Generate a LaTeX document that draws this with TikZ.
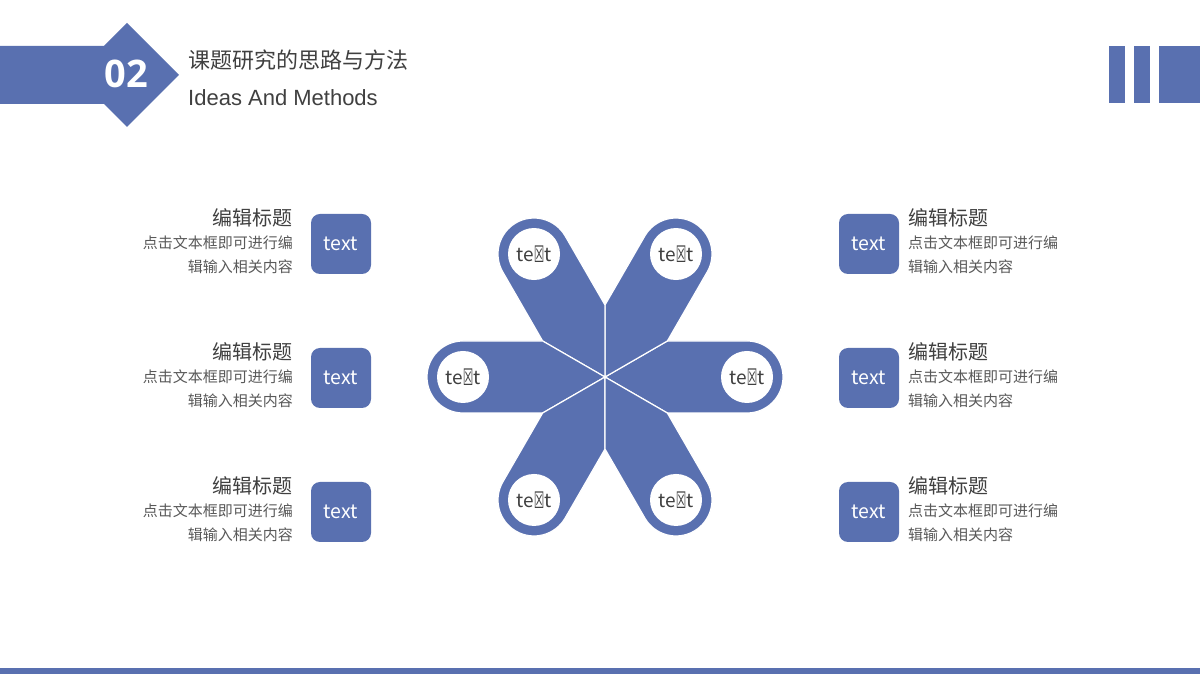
\documentclass[tikz,border=0pt]{standalone}
\usepackage{fontspec}
\setmainfont{Noto Sans CJK SC}
\newfontfamily\opensans{Open Sans}
\newfontfamily\libsans{Liberation Sans}
\newfontfamily\dejavu{DejaVu Sans}
\usetikzlibrary{calc}
\definecolor{mainblue}{RGB}{89,112,176}
\definecolor{titlegray}{RGB}{64,64,64}
\definecolor{bodygray}{RGB}{89,89,89}
\newcommand{\boxedx}{\raisebox{-0.04em}{\scalebox{0.62}[1.2]{\dejavu ☒}}}
\tikzset{
  petal/.style={fill=mainblue, draw=white, line width=1.2pt, line join=miter},
  petalcircle/.style={circle, fill=white, minimum size=52pt, inner sep=0pt,
    text=titlegray, font=\fontsize{19}{22}\selectfont},
  tbox/.style={fill=mainblue, rounded corners=9pt, minimum width=60pt, minimum height=60pt,
    inner sep=0pt, text=white, font=\fontsize{19.5}{22}\selectfont},
  ttl/.style={inner sep=0pt, text=titlegray, font=\fontsize{20}{24}\selectfont},
  bdy/.style={inner sep=0pt, text=bodygray, font=\fontsize{15}{18}\selectfont},
  bar/.style={fill=mainblue, draw=none},
}
\begin{document}
\begin{tikzpicture}[x=1pt,y=1pt]
\useasboundingbox (0,0) rectangle (1200,680);
\fill[white] (0,0) rectangle (1200,680);
% header
\fill[mainblue] (0,634) -- (104,634) -- (127,657) -- (179,605) -- (127,553) -- (104,576) -- (0,576) -- cycle;
\node[inner sep=0pt, text=white, font=\opensans\bfseries\fontsize{38}{40}\selectfont] (num) at (126.5,606) {02};
\node[inner sep=0pt, anchor=west, text=titlegray, font=\fontsize{22}{26}\selectfont] (title) at (188,620) {课题研究的思路与方法};
\node[inner sep=0pt, anchor=west, text=titlegray, font=\libsans\fontsize{22}{26}\selectfont] (subtitle) at (188,582) {Ideas And Methods};
% right bars
\fill[bar] (1109,577) rectangle (1125,634);
\fill[bar] (1134,577) rectangle (1150,634);
\fill[bar] (1159,577) rectangle (1200,634);
% bottom line
\fill[bar] (0,6) rectangle (1200,12);
% flower
\coordinate (O) at (605,303);
\foreach \a [count=\i] in {0,60,120,180,240,300} {
  \filldraw[petal] (O) -- ($(O)+(\a+30:72)$) -- ($(O)+(\a:142)+(\a+90:36)$)
    arc[start angle=\a+90, end angle=\a-90, radius=36] -- ($(O)+(\a-30:72)$) -- cycle;
  \node[petalcircle] (c\i) at ($(O)+(\a:142)$) {te\boxedx t};
}
% side items
\foreach \y [count=\i] in {436,302,168} {
  \node[tbox] (L\i) at (341,\y) {text};
  \node[tbox] (R\i) at (869,\y) {text};
  \node[ttl, anchor=east] (LT\i) at (293,\y+26) {编辑标题};
  \node[bdy, anchor=east] (LA\i) at (293,\y+1) {点击文本框即可进行编};
  \node[bdy, anchor=east] (LB\i) at (293,\y-23) {辑输入相关内容};
  \node[ttl, anchor=west] (RT\i) at (908,\y+26) {编辑标题};
  \node[bdy, anchor=west] (RA\i) at (908,\y+1) {点击文本框即可进行编};
  \node[bdy, anchor=west] (RB\i) at (908,\y-23) {辑输入相关内容};
}
\end{tikzpicture}
\end{document}
